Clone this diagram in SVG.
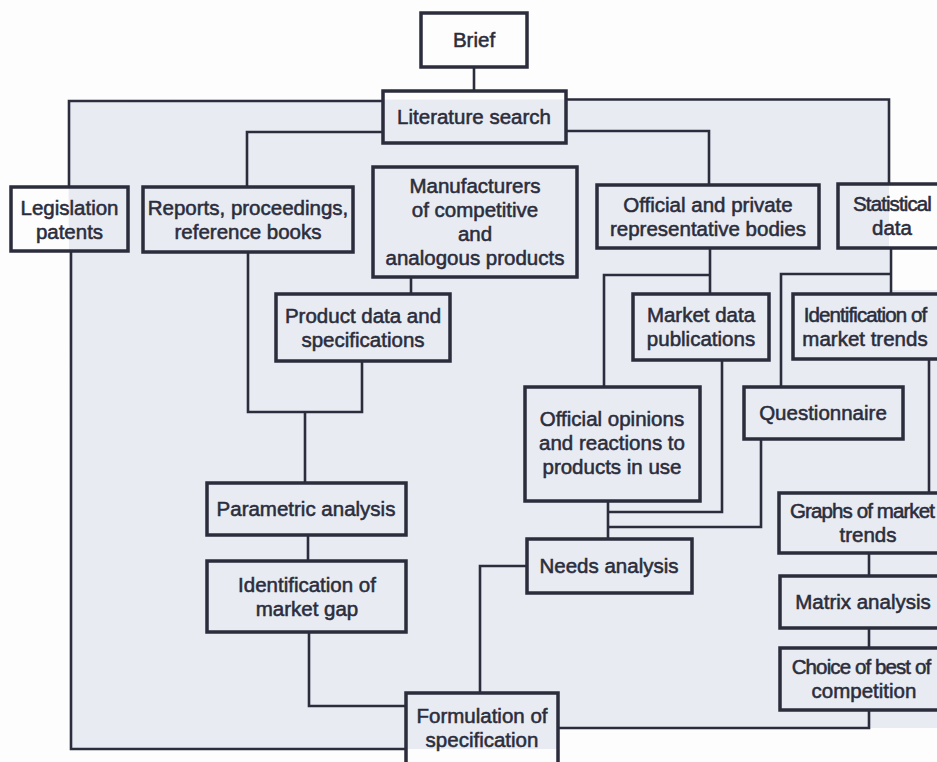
<svg xmlns="http://www.w3.org/2000/svg" width="937" height="762" viewBox="0 0 937 762">
  <style>
    .box { fill: none; stroke: #2b2d3c; stroke-width: 3.5; }
    .wire { fill: none; stroke: #2b2d3c; stroke-width: 2.6; stroke-linejoin: miter; }
    text { font-family: "Liberation Sans", Arial, sans-serif; font-size: 20.5px; fill: #2b2d3c; stroke: #2b2d3c; stroke-width: 0.55; text-anchor: middle; }
    .tight { letter-spacing: -0.9px; }
  </style>

  <!-- page backdrop -->
  <rect x="0" y="0" width="937" height="762" fill="#fdfdfd"/>
  <polygon points="68,100 889,99 889,290 937,290 937,728 558,728 558,749 72,749" fill="#e8ebf2"/>

  <!-- connectors -->
  <g id="connectors">
    <path class="wire" d="M474,67 V91"/>
    <path class="wire" d="M383,101 H69 V187"/>
    <path class="wire" d="M71,251 V749 H406"/>
    <path class="wire" d="M383,132 H247 V187"/>
    <path class="wire" d="M248,252 V412 H362 V361"/>
    <path class="wire" d="M305,412 V483"/>
    <path class="wire" d="M411,277 V294"/>
    <path class="wire" d="M566,131 H709 V185"/>
    <path class="wire" d="M566,99.5 H889 V184"/>
    <path class="wire" d="M710,248 V294"/>
    <path class="wire" d="M710,275 H604 V387"/>
    <path class="wire" d="M722,360 V512 H608"/>
    <path class="wire" d="M608,501 V539"/>
    <path class="wire" d="M761,439 V527 H608"/>
    <path class="wire" d="M891,248 V294"/>
    <path class="wire" d="M891,274 H781 V387"/>
    <path class="wire" d="M929,359 V493"/>
    <path class="wire" d="M869,553 V576"/>
    <path class="wire" d="M869,628 V648"/>
    <path class="wire" d="M869,710 V728 H558"/>
    <path class="wire" d="M527,566 H480 V693"/>
    <path class="wire" d="M308,535 V561"/>
    <path class="wire" d="M309,632 V706 H406"/>
  </g>

  <!-- nodes -->
  <g id="brief">
    <rect class="box" x="421" y="13" width="106" height="54"/>
    <text x="474" y="47">Brief</text>
  </g>
  <g id="literature-search">
    <rect class="box" x="383" y="91" width="183" height="52"/>
    <text x="474" y="124">Literature search</text>
  </g>
  <g id="legislation">
    <rect class="box" x="11" y="187" width="117" height="64"/>
    <text x="69.5" y="214.5">Legislation</text>
    <text x="69.5" y="238.5">patents</text>
  </g>
  <g id="reports">
    <rect class="box" x="143" y="187" width="210" height="65"/>
    <text x="248" y="215">Reports, proceedings,</text>
    <text x="248" y="239">reference books</text>
  </g>
  <g id="manufacturers">
    <rect class="box" x="373" y="167" width="204" height="110"/>
    <text x="475" y="193">Manufacturers</text>
    <text x="475" y="217">of competitive</text>
    <text x="475" y="241">and</text>
    <text x="475" y="265">analogous products</text>
  </g>
  <g id="official-private">
    <rect class="box" x="597" y="185" width="222" height="63"/>
    <text x="708" y="212">Official and private</text>
    <text x="708" y="236">representative bodies</text>
  </g>
  <g id="statistical-data">
    <rect class="box" x="838" y="184" width="114" height="64"/>
    <text x="892" y="211" class="tight">Statistical</text>
    <text x="892" y="235">data</text>
  </g>
  <g id="product-data">
    <rect class="box" x="276" y="294" width="174" height="67"/>
    <text x="363" y="323">Product data and</text>
    <text x="363" y="347">specifications</text>
  </g>
  <g id="market-data">
    <rect class="box" x="633" y="294" width="136" height="66"/>
    <text x="701" y="322">Market data</text>
    <text x="701" y="346">publications</text>
  </g>
  <g id="market-trends">
    <rect class="box" x="793" y="294" width="146" height="65"/>
    <text x="865" y="322" class="tight">Identification of</text>
    <text x="865" y="346">market trends</text>
  </g>
  <g id="official-opinions">
    <rect class="box" x="525" y="387" width="175" height="114"/>
    <text x="612" y="426">Official opinions</text>
    <text x="612" y="450">and reactions to</text>
    <text x="612" y="474">products in use</text>
  </g>
  <g id="questionnaire">
    <rect class="box" x="744" y="387" width="159" height="52"/>
    <text x="823" y="420">Questionnaire</text>
  </g>
  <g id="parametric-analysis">
    <rect class="box" x="207" y="483" width="199" height="52"/>
    <text x="306" y="516">Parametric analysis</text>
  </g>
  <g id="graphs">
    <rect class="box" x="779" y="493" width="180" height="60"/>
    <text x="862" y="518" class="tight">Graphs of market</text>
    <text x="868" y="542">trends</text>
  </g>
  <g id="needs-analysis">
    <rect class="box" x="527" y="539" width="165" height="54"/>
    <text x="609" y="573">Needs analysis</text>
  </g>
  <g id="market-gap">
    <rect class="box" x="207" y="561" width="199" height="71"/>
    <text x="307" y="592">Identification of</text>
    <text x="307" y="616">market gap</text>
  </g>
  <g id="matrix-analysis">
    <rect class="box" x="780" y="576" width="168" height="52"/>
    <text x="863" y="609">Matrix analysis</text>
  </g>
  <g id="choice">
    <rect class="box" x="780" y="648" width="168" height="62"/>
    <text x="861" y="674" class="tight">Choice of best of</text>
    <text x="864" y="698">competition</text>
  </g>
  <g id="formulation">
    <rect class="box" x="406" y="693" width="152" height="75"/>
    <text x="482" y="723">Formulation of</text>
    <text x="482" y="747">specification</text>
  </g>
</svg>
